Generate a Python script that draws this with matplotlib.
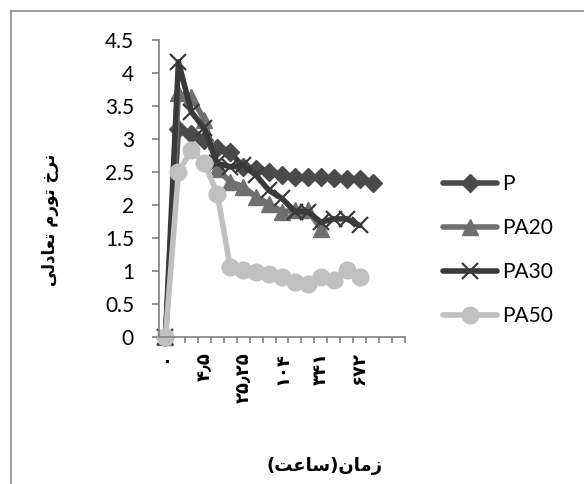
import numpy as np
import matplotlib
matplotlib.use("Agg")
import matplotlib.pyplot as plt
from matplotlib.lines import Line2D

# swelling ratio per sampling time, one list per sample
p_vals = [0, 3.15, 3.08, 2.98, 2.86, 2.80, 2.58, 2.55, 2.50, 2.45,
          2.43, 2.42, 2.42, 2.41, 2.40, 2.40, 2.33]
pa20_vals = [0, 3.69, 3.64, 3.29, 2.55, 2.35, 2.28, 2.12, 2.02, 1.90,
             1.92, 1.92, 1.64]
pa30_vals = [0, 4.17, 3.41, 3.16, 2.63, 2.58, 2.60, 2.45, 2.22, 2.10,
             1.90, 1.90, 1.74, 1.79, 1.79, 1.69]
pa50_vals = [0, 2.50, 2.83, 2.64, 2.17, 1.06, 1.02, 0.99, 0.96, 0.91,
             0.83, 0.81, 0.91, 0.87, 1.02, 0.91]

# time axis: 19 categories, every third one labelled
x_labels = ["۰", "", "", "۴٫۵", "", "", "۲۵٫۲۵", "", "", "۱۰۴", "", "",
            "۳۴۱", "", "", "۶۷۲", "", "", ""]

series_names = ["P", "PA20", "PA30", "PA50"]

# matplotlib does no Arabic shaping, so the labels are kept as
# presentation forms in visual (left-to-right) order
x_title = "(ﺖﻋﺎﺳ)ﻥﺎﻣﺯ"      # زمان(ساعت)
y_title = "ﻰﻟﺩﺎﻌﺗ ﻡﺭﻮﺗ ﺥﺮﻧ"  # نرخ تورم تعادلی

plt.rcParams["font.family"] = ["Lato", "DejaVu Sans"]

W, H = 584, 484
fig = plt.figure(figsize=(W / 100, H / 100), dpi=100)
ax = fig.add_axes([159 / W, 1 - 337 / H, (405 - 159) / W, (337 - 40) / H])

styles = [
    dict(color="#4a4a4a", marker="D", markersize=9),
    dict(color="#6f6f6f", marker="^", markersize=12),
    dict(color="#3a3a3a", marker="x", markersize=12, markeredgewidth=1.6),
    dict(color="#c0c0c0", marker="o", markersize=12),
]
data = [p_vals, pa20_vals, pa30_vals, pa50_vals]
for name, vals, st in zip(series_names, data, styles):
    ax.plot(np.arange(len(vals)), vals, label=name, linewidth=4,
            solid_capstyle="round", solid_joinstyle="round",
            clip_on=False, **st)

ax.set_xlim(-0.5, len(x_labels) - 0.5)
ax.set_ylim(0, 4.5)
ax.set_yticks(np.arange(0, 4.51, 0.5))
ax.set_yticklabels(["0", "0.5", "1", "1.5", "2", "2.5", "3", "3.5", "4", "4.5"])
ax.set_xticks(np.arange(-0.5, len(x_labels), 1))
ax.set_xticklabels([])
ax.set_xticks(np.arange(len(x_labels)), minor=True)
ax.set_xticklabels(x_labels, minor=True, rotation=90, va="top", ha="center",
                   family="DejaVu Sans", fontweight="bold", fontsize=13)

for side in ("top", "right"):
    ax.spines[side].set_visible(False)
for side in ("left", "bottom"):
    ax.spines[side].set_color("#8a8a8a")
    ax.spines[side].set_linewidth(1.3)

ax.tick_params(axis="y", length=5, width=1.3, color="#8a8a8a",
               labelsize=15, pad=13)
ax.tick_params(axis="x", which="major", length=4, width=1.3, color="#8a8a8a")
ax.tick_params(axis="x", which="minor", length=0, pad=11)

fig.legend(loc="center left", bbox_to_anchor=(443 / W, 1 - 250 / H),
           frameon=False, fontsize=15, handlelength=2.6, handletextpad=0.25,
           labelspacing=1.15, borderpad=0, borderaxespad=0)

fig.text(325 / W, 1 - 466 / H, x_title, ha="center", va="center",
         family="DejaVu Sans", fontweight="bold", fontsize=13)
fig.text(50 / W, 1 - 220 / H, y_title, ha="center", va="center",
         rotation=90, family="DejaVu Sans", fontweight="bold", fontsize=12)

# outer chart frame (only the top and left edges show)
frame_kw = dict(color="#8c8c8c", linewidth=1.2)
fig.add_artist(Line2D([10.5 / W, 10.5 / W], [0, 1 - 10.5 / H], **frame_kw))
fig.add_artist(Line2D([10.5 / W, 1], [1 - 10.5 / H, 1 - 10.5 / H], **frame_kw))

fig.savefig("out.png", dpi=100)
